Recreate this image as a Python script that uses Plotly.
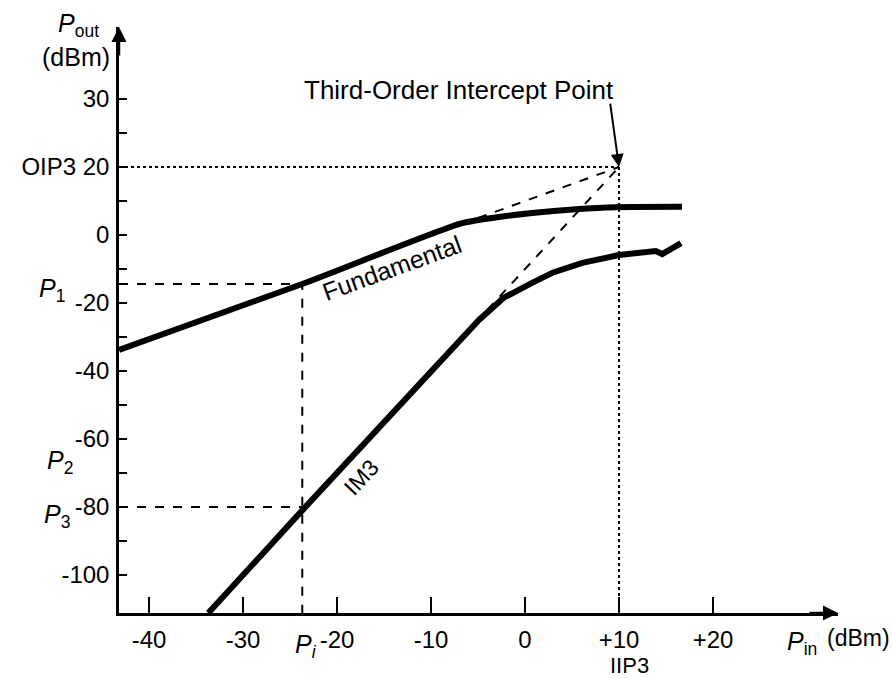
import plotly.graph_objects as go

# ---- data (dBm) ----
fund_pin = [-43.2, -23.7, -6.7, -2.8, 0.75, 5.4, 9.7, 16.7]
fund_pout = [-33.8, -14.4, 3.5, 5.3, 6.5, 7.6, 8.2, 8.3]

im3_pin = [-33.7, -23.7, -4.9, -2.3, 0.75, 3.0, 6.1, 10.0, 13.9, 14.6, 16.6]
im3_pout = [-111.2, -81.0, -25.0, -18.5, -14.1, -11.0, -8.2, -5.9, -4.7, -5.6, -2.4]

fund_ext_pin = [-5.0, 10.0]
fund_ext_pout = [5.0, 20.0]
im3_ext_pin = [-4.0, 10.0]
im3_ext_pout = [-22.0, 20.0]

iip3 = 10.0
oip3 = 20.0
p_i = -23.7
p_1 = -14.4
p_3 = -80.0

x_range = [-43.2, 33.3]
y_range = [-111.2, 61.2]

x_tickvals = [-40, -30, -20, -10, 0, 10, 20]
x_ticktext = ["-40", "-30", "-20", "-10", "0", "+10", "+20"]
y_tickvals = [40, 20, 0, -20, -40, -60, -80, -100]
y_ticktext = ["30", "OIP3 20", "0", "-20", "-40", "-60", "-80", "-100"]
y_minor_vals = [30, 10, -10, -30, -50, -70, -90]

FONT = "Liberation Sans, Arial, sans-serif"
BLACK = "#000000"

# plot area in pixels (for placing labels outside the axes)
L, R, T, B = 119, 838, 27, 613

fig = go.Figure()

# dotted guides to the intercept point
fig.add_trace(go.Scatter(x=[x_range[0], iip3], y=[oip3, oip3], mode="lines",
                         line=dict(color=BLACK, width=2, dash="dot"), cliponaxis=False))
fig.add_trace(go.Scatter(x=[iip3, iip3], y=[oip3, y_range[0]], mode="lines",
                         line=dict(color=BLACK, width=2, dash="dot")))
# dashed guides
fig.add_trace(go.Scatter(x=[x_range[0], p_i, p_i], y=[p_1, p_1, y_range[0]], mode="lines",
                         line=dict(color=BLACK, width=2, dash="dash")))
fig.add_trace(go.Scatter(x=[x_range[0], p_i], y=[p_3, p_3], mode="lines",
                         line=dict(color=BLACK, width=2, dash="dash")))
fig.add_trace(go.Scatter(x=fund_ext_pin, y=fund_ext_pout, mode="lines",
                         line=dict(color=BLACK, width=2, dash="dash")))
fig.add_trace(go.Scatter(x=im3_ext_pin, y=im3_ext_pout, mode="lines",
                         line=dict(color=BLACK, width=2, dash="dash")))
# main curves
fig.add_trace(go.Scatter(x=fund_pin, y=fund_pout, mode="lines",
                         line=dict(color=BLACK, width=6, shape="spline", smoothing=0.6)))
fig.add_trace(go.Scatter(x=im3_pin, y=im3_pout, mode="lines",
                         line=dict(color=BLACK, width=6)))

ann = []
def txt(x, y, t, size=24, angle=0):
    ann.append(dict(x=x, y=y, xref="x", yref="y", text=t, showarrow=False,
                    font=dict(family=FONT, size=size, color=BLACK), textangle=angle,
                    xanchor="center", yanchor="middle"))

def ptxt(px, py, t, size=24):
    ann.append(dict(x=(px - L) / (R - L), y=(B - py) / (B - T), xref="paper", yref="paper",
                    text=t, showarrow=False, font=dict(family=FONT, size=size, color=BLACK),
                    xanchor="center", yanchor="middle", borderpad=0))

ptxt(78, 25, "<i>P</i><sub>out</sub>", 25)
ptxt(76, 57, "(dBm)", 25)
ptxt(52, 290, "<i>P</i><sub>1</sub>", 25)
ptxt(60, 462, "<i>P</i><sub>2</sub>", 25)
ptxt(57, 516, "<i>P</i><sub>3</sub>", 25)
ptxt(306, 646, "<i>P</i><sub><i>i</i></sub>", 25)
ptxt(629, 666, "IIP3", 22)
ptxt(802, 643, "<i>P</i><sub>in</sub>", 25)
ptxt(858, 638, "(dBm)", 23)
txt(-7.0, 42.6, "Third-Order Intercept Point", 26)
txt(-14.2, -9.7, "Fundamental", 25, -20)
txt(-17.4, -71.2, "IM3", 23, -47)

# arrow to intercept point
ann.append(dict(x=iip3, y=oip3, xref="x", yref="y", ax=-9, ay=-65, text="",
                showarrow=True, arrowhead=2, arrowsize=1.3, arrowwidth=2, arrowcolor=BLACK))
# axis arrowheads
ann.append(dict(x=x_range[1], y=y_range[0], xref="x", yref="y", ax=-30, ay=0, text="",
                showarrow=True, arrowhead=2, arrowsize=1.2, arrowwidth=2.5, arrowcolor=BLACK))
ann.append(dict(x=x_range[0], y=y_range[1], xref="x", yref="y", ax=0, ay=30, text="",
                showarrow=True, arrowhead=2, arrowsize=1.2, arrowwidth=2.5, arrowcolor=BLACK))

fig.update_layout(
    width=892, height=678,
    margin=dict(l=L, r=892 - R, t=T, b=678 - B),
    plot_bgcolor="white", paper_bgcolor="white",
    showlegend=False,
    font=dict(family=FONT, size=24, color=BLACK),
    annotations=ann,
    xaxis=dict(range=x_range, showgrid=False, zeroline=False, showline=True,
               linecolor=BLACK, linewidth=2.5, ticks="inside", ticklen=16, tickwidth=2,
               tickcolor=BLACK, tickvals=x_tickvals, ticktext=x_ticktext,
               tickfont=dict(family=FONT, size=24, color=BLACK), ticklabelstandoff=3),
    yaxis=dict(range=y_range, showgrid=False, zeroline=False, showline=True,
               linecolor=BLACK, linewidth=2.5, ticks="inside", ticklen=8, tickwidth=2,
               tickcolor=BLACK, tickvals=y_tickvals, ticktext=y_ticktext,
               tickfont=dict(family=FONT, size=24, color=BLACK), ticklabelstandoff=2,
               minor=dict(tickmode="array", tickvals=y_minor_vals, ticks="inside",
                          ticklen=8, tickwidth=2, tickcolor=BLACK, showgrid=False)),
)

fig.write_html("out.html")
